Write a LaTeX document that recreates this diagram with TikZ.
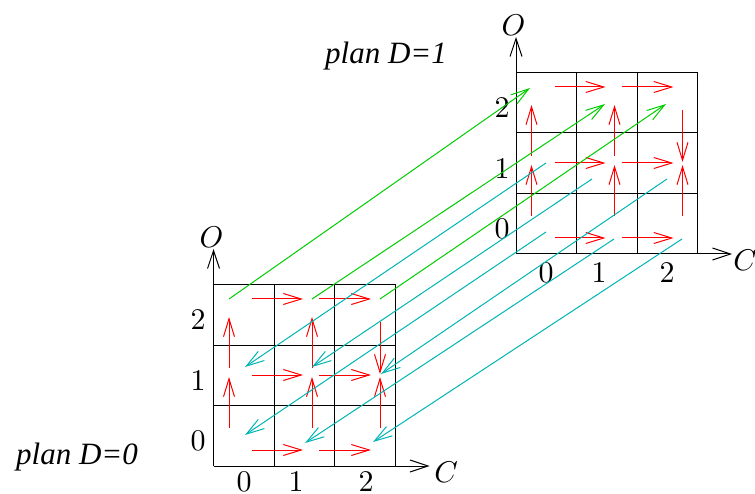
\documentclass[tikz,border=0pt]{standalone}
\usepackage{fontspec}
\newfontfamily\planfont{Liberation Serif}
\usetikzlibrary{arrows.meta}
\definecolor{planred}{RGB}{255,0,0}
\definecolor{plangreen}{RGB}{0,205,0}
\definecolor{plancyan}{RGB}{0,180,180}
\font\digitfont=cmr10 at 30pt
\font\axisfont=cmmi10 at 30pt
\tikzset{%
  % grid and axes
  gridline/.style={draw=black, line width=1pt},
  axis/.style={-{Straight Barb[length=18pt,width=12pt]}, line width=1pt},
  digit/.style={inner sep=0pt, font=\digitfont},
  axisname/.style={inner sep=0pt, font=\axisfont},
  planname/.style={inner sep=0pt, font=\fontsize{31}{34}\selectfont\planfont\itshape},
  % red moves, end gaps differ per column
  move/.style={-{Straight Barb[length=18pt,width=11pt]}, draw=planred, line width=1pt},
  firstc/.style={move, shorten <=23pt, shorten >=9pt},
  nextc/.style={move, shorten <=7pt, shorten >=9pt},
  lowo/.style={move, shorten <=22pt, shorten >=2pt},
  higho/.style={move, shorten <=7pt, shorten >=18pt},
  downo/.style={move, shorten <=23pt, shorten >=1pt},
  % moves between the plans
  up/.style={-{Straight Barb[length=18pt,width=11pt]}, draw=plangreen, line width=1pt},
  down/.style={-{Straight Barb[length=18pt,width=11pt]}, draw=plancyan, line width=1pt},
}
\newcommand{\plangrid}[3]{%
  % #1 = name prefix
  % #2, #3 = origin of the grid
  \begin{scope}[shift={(#2,#3)}]
    \coordinate (#1org) at (0,0);
    \coordinate (#1otip) at (0,-217);
    \coordinate (#1ctip) at (216,0);
    \foreach \c/\x in {0/15.5,1/98.5,2/166.5}
      \foreach \o/\y in {0/-16,1/-91,2/-167}
        \coordinate (#1s\c\o) at (\x,\y);
    \foreach \g in {60.5,121,181.5} {
      \draw[gridline] (\g,0) -- (\g,-181.5);
      \draw[gridline] (0,-\g) -- (181.5,-\g);
    }
    \draw[axis] (#1org) -- (#1otip);
    \draw[axis] (#1org) -- (#1ctip);

    \foreach \o in {0,1,2} {
      \draw[firstc] (#1s0\o) -- (#1s1\o);
      \draw[nextc] (#1s1\o) -- (#1s2\o);
    }
    \foreach \c in {0,1} {
      \draw[lowo] (#1s\c0) -- (#1s\c1);
      \draw[higho] (#1s\c1) -- (#1s\c2);
    }
    \draw[lowo] (#1s20) -- (#1s21);
    \draw[downo] (#1s22) -- (#1s21);
  \end{scope}
}

\begin{document}
\begin{tikzpicture}[x=1pt, y=-1pt]
  \useasboundingbox (0,0) rectangle (755,494);

  \plangrid{a}{213.5}{466}
  \plangrid{b}{516}{254}

  % labels, plan D=0
  \node[axisname] (ao) at (211,237) {O};
  \node[axisname] (ac) at (445,472) {C};
  \node[digit] (ay2) at (198,320) {2};
  \node[digit] (ay1) at (198,381) {1};
  \node[digit] (ay0) at (198,441) {0};
  \node[digit] (ax0) at (244,482) {0};
  \node[digit] (ax1) at (296,482) {1};
  \node[digit] (ax2) at (366,482) {2};
  \node[planname] (aname) at (77,457) {plan D=0};

  % labels, plan D=1
  \node[axisname] (bo) at (513,25) {O};
  \node[axisname] (bc) at (744,260) {C};
  \node[digit] (by2) at (502,108) {2};
  \node[digit] (by1) at (502,169) {1};
  \node[digit] (by0) at (502,229) {0};
  \node[digit] (bx0) at (546,273) {0};
  \node[digit] (bx1) at (599,273) {1};
  \node[digit] (bx2) at (667,273) {2};
  \node[planname] (bname) at (386,56) {plan D=1};

  % free ends of the moves between the plans
  \coordinate (up1) at (530,88);
  \coordinate (up2) at (605,104);
  \coordinate (up3) at (666,104);
  \coordinate (top1) at (546,163);
  \coordinate (top2) at (592,179);
  \coordinate (top3) at (667,179);
  \coordinate (top4) at (546,232);
  \coordinate (top5) at (614,239);
  \coordinate (top6) at (682,239);
  \coordinate (low1) at (245,367);
  \coordinate (low2) at (312,367);
  \coordinate (low3) at (381,374);
  \coordinate (low4) at (245,435);
  \coordinate (low5) at (305,443);
  \coordinate (low6) at (373,442);

  \draw[up] (as02) -- (up1);
  \draw[up] (as12) -- (up2);
  \draw[up] (as22) -- (up3);

  \draw[down] (top1) -- (low1);
  \draw[down] (top2) -- (low2);
  \draw[down] (top3) -- (low3);
  \draw[down] (top4) -- (low4);
  \draw[down] (top5) -- (low5);
  \draw[down] (top6) -- (low6);
\end{tikzpicture}
\end{document}
